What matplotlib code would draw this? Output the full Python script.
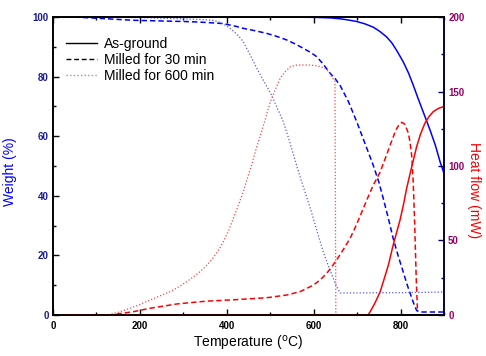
import numpy as np
import matplotlib.pyplot as plt
from matplotlib.lines import Line2D
from matplotlib.ticker import MultipleLocator

plt.rcParams['font.family'] = ['Liberation Sans', 'DejaVu Sans']

# Weight (%) curves
t_w0 = [30, 100, 300, 500, 600, 640, 661, 680, 699, 718, 737, 752, 768, 780, 791, 806,
        818, 829, 840, 852, 868, 880, 891, 900]
w0 = [100, 100, 100, 100, 99.9, 99.7, 99.4, 99.0, 98.5, 97.7, 96.6, 95.2, 93.3, 91.3, 88.8, 85,
      81.3, 77.2, 72.8, 68.2, 62, 57, 51.4, 47.5]

t_w30 = [30, 47, 100, 185, 300, 338, 392, 423, 438, 465, 492, 515, 538, 557, 576, 592, 607,
         623, 638, 650, 661, 680, 699, 718, 737, 750, 760, 772, 783, 795, 806, 816, 826,
         832, 837, 845, 900]
w30 = [100, 100, 99.6, 98.9, 98.5, 98.3, 97.8, 96.8, 96.2, 95.4, 94.5, 93.5, 92.3, 91, 89.5,
       88.2, 86.7, 84, 81.1, 79.2, 77, 71.6, 64.9, 57.6, 50.3, 44.6, 39.2, 32.4, 25.7, 19.6,
       14.5, 9.8, 5.6, 3.2, 1.5, 1.0, 1.0]

t_w600 = [30, 200, 300, 350, 370, 385, 400, 415, 428, 438, 453, 469, 486, 503, 516, 530, 545,
          559, 575, 592, 607, 622, 635, 645, 653, 661, 700, 800, 900]
w600 = [100, 99.8, 99.4, 99.1, 98.8, 98.2, 97.0, 95.3, 93.5, 91.7, 87.5, 82.8, 78.3, 73.8,
        69.5, 64.9, 58, 51, 43.5, 35.9, 28.5, 21.2, 16, 12.4, 9.5, 7.4, 7.4, 7.5, 7.7]

# Heat flow (mW) curves
t_h0 = [30, 725, 730, 741, 753, 762, 772, 783, 791, 799, 807, 814, 822, 830, 837, 846, 856,
        865, 875, 886, 898, 900]
h0 = [0, 0, 2.2, 8, 15.6, 24, 33.6, 47, 55.5, 64, 74.5, 85, 95, 104.5, 113, 121.5, 128.7,
      133, 136.4, 138.5, 139.8, 140]

t_h30 = [30, 131, 185, 223, 285, 338, 361, 415, 460, 492, 538, 569, 599, 615, 630, 641, 653,
         668, 684, 696, 707, 722, 737, 753, 766, 776, 789, 797, 803, 810, 818, 822, 826, 829,
         832, 836, 839]
h30 = [0, 0, 2.2, 4.5, 7.4, 8.9, 9.4, 10.2, 11, 11.6, 13.4, 15.7, 20, 23.5, 28, 32, 37, 43.8,
       51.5, 59, 66.5, 77, 87, 96, 106, 114, 124, 128, 129.3, 128, 122, 115.5, 106, 90, 66,
       25, 2]

t_h600 = [30, 127, 152, 177, 200, 223, 246, 269, 290, 308, 324, 338, 350, 361, 369, 381, 392,
          404, 415, 427, 438, 447, 457, 468, 480, 490, 500, 512, 523, 535, 546, 558, 569, 588,
          607, 617, 626, 634, 641, 646, 649, 651]
h600 = [0, 0, 2, 4.5, 7, 10, 12.8, 15.6, 19, 22.4, 25.8, 29, 32.2, 35.6, 38.5, 43.5, 49.2,
        56.5, 64.9, 74, 82.8, 91.5, 100.7, 112, 123, 133, 143, 151.5, 158.9, 163.5, 166.6,
        167.6, 167.8, 167.8, 167.3, 166.6, 165.5, 163.5, 160, 158, 157, 0]

legend_labels = ['As-ground', 'Milled for 30 min', 'Milled for 600 min']

dash = (0, (3.5, 2))
dot = (0, (1, 1.6))

fig = plt.figure(figsize=(4.86, 3.56), dpi=100)
ax = fig.add_axes([0.1091, 0.1152, 0.8045, 0.837])
ax2 = ax.twinx()

ax.plot(t_w0, w0, color='#0000ff', lw=1.1)
ax.plot(t_w30, w30, color='#0000ff', lw=1.1, linestyle=dash)
ax.plot(t_w600, w600, color='#5555ff', lw=0.9, linestyle=dot)

ax2.plot(t_h0, h0, color='#ff0000', lw=1.1)
ax2.plot(t_h30, h30, color='#ff0000', lw=1.1, linestyle=dash)
ax2.plot(t_h600, h600, color='#ff4444', lw=0.9, linestyle=dot)

ax.set_xlim(0, 900)
ax.set_ylim(0, 100)
ax2.set_ylim(0, 200)

ax.xaxis.set_major_locator(MultipleLocator(200))
ax.xaxis.set_minor_locator(MultipleLocator(100))
ax.yaxis.set_major_locator(MultipleLocator(20))
ax.yaxis.set_minor_locator(MultipleLocator(10))
ax2.yaxis.set_major_locator(MultipleLocator(50))
ax2.yaxis.set_minor_locator(MultipleLocator(25))

ax.tick_params(axis='x', which='both', direction='in', top=True, labelsize=7, pad=4)
ax.tick_params(axis='y', which='both', direction='in', labelsize=7, labelcolor='#1a1a99', pad=3)
ax2.tick_params(axis='y', which='both', direction='in', labelsize=7, colors='#000050', pad=3)
for a in (ax, ax2):
    a.tick_params(which='major', length=4, width=1)
    a.tick_params(which='minor', length=2.5, width=1)
ax2.tick_params(axis='y', labelcolor='#990066')
for lab in ax.get_xticklabels() + ax.get_yticklabels() + ax2.get_yticklabels():
    lab.set_fontweight('bold')

for s in ax.spines.values():
    s.set_linewidth(1.2)
for s in ax2.spines.values():
    s.set_linewidth(1.2)
ax2.spines['right'].set_color('#000050')

ax.set_xlabel(r'Temperature ($^{\rm o}$C)', fontsize=10)
ax.set_ylabel('Weight (%)', fontsize=10, color='#0000ff')
ax2.set_ylabel('Heat flow (mW)', fontsize=10, color='#ff0000', rotation=270)
ax.xaxis.set_label_coords(0.5, -0.065)
ax.yaxis.set_label_coords(-0.092, 0.48)
ax2.yaxis.set_label_coords(1.095, 0.42)

handles = [Line2D([], [], color='black', lw=1.0),
           Line2D([], [], color='black', lw=1.0, linestyle=dash),
           Line2D([], [], color='#999999', lw=1.0, linestyle=dot)]
ax2.legend(handles, legend_labels, loc='upper left', bbox_to_anchor=(0.0, 0.975),
           frameon=False, fontsize=10, handlelength=2.3, handletextpad=0.5,
           labelspacing=0.15)

fig.savefig('out.png', dpi=100)
